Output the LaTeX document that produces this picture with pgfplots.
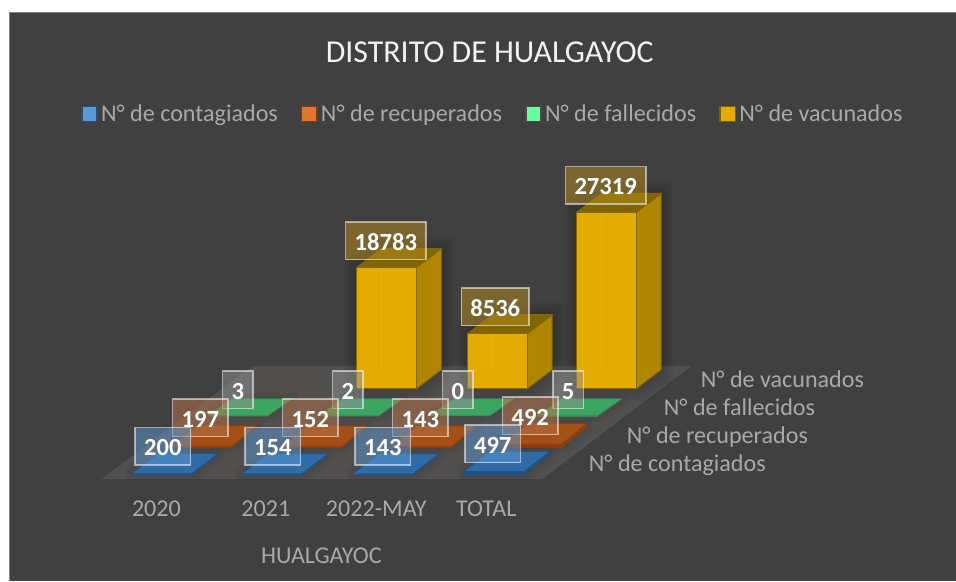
\documentclass[border=0pt]{standalone}
\usepackage{pgfplots}
\usepackage{fontspec}
\usepackage{xfp}
\setmainfont{Carlito}
\pgfplotsset{compat=1.18}
\definecolor{panel}{HTML}{404040}
\definecolor{pedge}{HTML}{7F7F7F}
\definecolor{floorc}{HTML}{524F4F}
\definecolor{axt}{HTML}{A9A9A9}
\definecolor{ytop}{HTML}{7F6600}
\definecolor{yfront}{HTML}{E5AC00}
\definecolor{yside}{HTML}{B08500}
\definecolor{yedge}{HTML}{866700}
\definecolor{btop}{HTML}{2F6CA6}
\definecolor{bdark}{HTML}{1F5286}
\definecolor{otop}{HTML}{A34F16}
\definecolor{odark}{HTML}{8A3F10}
\definecolor{gtop}{HTML}{3CA564}
\definecolor{gdark}{HTML}{2F8A52}
\definecolor{lby}{HTML}{B88C20}
\definecolor{lbb}{HTML}{5E98D0}
\definecolor{lbo}{HTML}{B8744A}
\definecolor{lbg}{HTML}{929292}
\definecolor{legb}{HTML}{5B9BD5}
\definecolor{legbd}{HTML}{264E78}
\definecolor{lego}{HTML}{DD7731}
\definecolor{legod}{HTML}{843C0C}
\definecolor{legg}{HTML}{66FF99}
\definecolor{leggd}{HTML}{4A4A4A}
\definecolor{legy}{HTML}{E5AC00}
\definecolor{legyd}{HTML}{7F6000}
% soft shadow of a bar: outline grown by #1 around base and top
\newcommand\softshadow[1]{%
  \edef\sa{\fpeval{\xl-#1}}\edef\sb{\fpeval{\xr+#1}}\edef\sc{\fpeval{\xrb+#1}}%
  \edef\sd{\fpeval{\ybase+#1}}\edef\se{\fpeval{\yback+#1}}%
  \edef\sf{\fpeval{\ytb-#1}}\edef\sg{\fpeval{\yt-#1}}%
  \addplot[fill=black,fill opacity=0.04,draw=none,forget plot] coordinates {(\sa,\sd) (\sb,\sd) (\sc,\se) (\sc,\sf) (\xlb,\sf) (\sa,\sg)} --cycle;
}
\newcommand\tallbar[2]{%
  \edef\xl{#1}\edef\ybase{389}\edef\yback{370}%
  \edef\yt{\fpeval{389-0.00646*#2}}%
  \edef\xr{\fpeval{#1+59.5}}%
  \edef\xrb{\fpeval{#1+59.5+25}}%
  \edef\xlb{\fpeval{#1+25}}%
  \edef\ytb{\fpeval{\yt-19}}%
  \softshadow{3}\softshadow{6}\softshadow{9}\softshadow{12}%
  \addplot[fill=yside,draw=yedge,line width=1pt,forget plot] coordinates {(\xr,389) (\xrb,370) (\xrb,\ytb) (\xr,\yt)} --cycle;
  \addplot[fill=ytop,draw=yedge,line width=1pt,forget plot] coordinates {(#1,\yt) (\xr,\yt) (\xrb,\ytb) (\xlb,\ytb)} --cycle;
  \addplot[fill=yfront,draw=yedge,line width=1pt,forget plot] coordinates {(#1,389) (\xr,389) (\xr,\yt) (#1,\yt)} --cycle;
  \addplot[draw=white,draw opacity=0.07,line width=1pt,forget plot] coordinates {(\xlb,\yt) (\xlb,372)};
}
\newcommand\flatbar[7]{%
  \edef\hh{\fpeval{0.00646*#5}}%
  \edef\xl{#1}\edef\ybase{#2}\edef\yback{#4}%
  \edef\xr{\fpeval{#1+60}}%
  \edef\xrb{\fpeval{#1+60+#3}}%
  \edef\xlb{\fpeval{#1+#3}}%
  \edef\yft{\fpeval{#2-\hh}}%
  \edef\ybt{\fpeval{#4-\hh}}%
  \edef\yt{\yft}\edef\ytb{\ybt}%
  \softshadow{3}\softshadow{6}%
  \addplot[fill=#7,draw=#7,line width=0.6pt,forget plot] coordinates {(\xr,#2) (\xrb,#4) (\xrb,\ybt) (\xr,\yft)} --cycle;
  \addplot[fill=#7,draw=#7,line width=0.6pt,forget plot] coordinates {(#1,#2) (\xr,#2) (\xr,\yft) (#1,\yft)} --cycle;
  \addplot[fill=#6,draw=#7,line width=0.6pt,forget plot] coordinates {(#1,\yft) (\xr,\yft) (\xrb,\ybt) (\xlb,\ybt)} --cycle;
}
\pgfplotsset{lab/.style={only marks,mark=none,forget plot,point meta=explicit symbolic,
  nodes near coords={\bfseries\pgfplotspointmeta},
  nodes near coords style={anchor=center,font=\fontsize{24.6}{26}\selectfont,text=white,
    fill=#1,fill opacity=0.5,text opacity=1,draw=white,draw opacity=0.55,line width=1.5pt,
    inner xsep=9pt,inner ysep=0pt,minimum height=37.5pt,text height=19pt,text depth=0pt}}}
\pgfplotstableread{
x y v
163 446.5 200
273 446.5 154
383 446.5 143
493 444 497
}\tblue
\pgfplotstableread{
x y v
200.5 418 197
310.5 418 152
420.5 418 143
530.5 416 492
}\torange
\pgfplotstableread{
x y v
238 390 3
348 390 2
458 390 0
568.5 390 5
}\tgreen
\pgfplotstableread{
x y v
386 241 18783
495.5 307 8536
606 185.5 27319
}\tyellow
\begin{document}
\begin{tikzpicture}
\begin{axis}[
  width=956pt,height=581pt,scale only axis,
  xmin=0,xmax=956,ymin=0,ymax=581,y dir=reverse,
  hide axis,clip=false,
  legend columns=4,
  legend cell align=left,
  legend image code/.code={\draw[#1,line width=1.6pt] (0pt,-7.5pt) rectangle (15.5pt,7.5pt);},
  legend style={at={(axis cs:81,114)},anchor=west,draw=none,fill=none,text=axt,inner sep=0pt,outer sep=0pt,
    font=\fontsize{24.1}{26}\selectfont,
    /tikz/column 2/.style={column sep=20pt},
    /tikz/column 4/.style={column sep=20pt},
    /tikz/column 6/.style={column sep=20pt},
    /tikz/nodes={inner xsep=3pt,inner ysep=0pt}},
]
\addlegendimage{fill=legb,draw=legbd}
\addlegendentry{N° de contagiados}
\addlegendimage{fill=lego,draw=legod}
\addlegendentry{N° de recuperados}
\addlegendimage{fill=legg,draw=leggd}
\addlegendentry{N° de fallecidos}
\addlegendimage{fill=legy,draw=legyd}
\addlegendentry{N° de vacunados}
% page and panel
\addplot[fill=white,draw=none,forget plot] coordinates {(0,0) (956,0) (956,581) (0,581)} --cycle;
\addplot[fill=panel,draw=none,forget plot] coordinates {(9,12.5) (956,12.5) (956,581) (9,581)} --cycle;
\addplot[draw=pedge,line width=1pt,forget plot] coordinates {(9.5,581) (9.5,12.5) (956,12.5)};
% floor
\addplot[fill=floorc,draw=none,forget plot] coordinates {(102,479) (543,479) (692,366) (253,366)} --cycle;
% vacunados
\tallbar{357}{18783}
\tallbar{468}{8536}
\tallbar{577}{27319}
% fallecidos
\flatbar{208}{416}{24}{399}{3}{gtop}{gdark}
\flatbar{319}{416}{24}{399}{2}{gtop}{gdark}
\flatbar{430}{416}{24}{399}{0}{gtop}{gdark}
\flatbar{538}{416}{24}{399}{5}{gtop}{gdark}
% recuperados
\flatbar{172}{447.5}{25}{427}{197}{otop}{odark}
\flatbar{282}{447.5}{25}{427}{152}{otop}{odark}
\flatbar{392}{447.5}{25}{427}{143}{otop}{odark}
\flatbar{502}{447.5}{25}{427}{492}{otop}{odark}
% contagiados
\flatbar{132}{475}{26}{455}{200}{btop}{bdark}
\flatbar{242}{475}{26}{455}{154}{btop}{bdark}
\flatbar{353}{475}{26}{455}{143}{btop}{bdark}
\flatbar{464}{475}{26}{455}{497}{btop}{bdark}
% data labels
\addplot[lab=lbg] table[x=x,y=y,meta=v] {\tgreen};
\addplot[lab=lbo] table[x=x,y=y,meta=v] {\torange};
\addplot[lab=lbb] table[x=x,y=y,meta=v] {\tblue};
\addplot[lab=lby] table[x=x,y=y,meta=v] {\tyellow};
% texts
\node[anchor=base,inner sep=0pt,text=white!95!black,font=\fontsize{31.9}{33}\selectfont] at (axis cs:490,63) {DISTRITO DE HUALGAYOC};
\begin{scope}[every node/.style={text=axt,font=\fontsize{24.1}{26}\selectfont,inner sep=0pt}]
\node[anchor=base] at (axis cs:156.5,517) {2020};
\node[anchor=base] at (axis cs:266,517) {2021};
\node[anchor=base] at (axis cs:376.5,517) {2022-MAY};
\node[anchor=base] at (axis cs:486.5,517) {TOTAL};
\node[anchor=base] at (axis cs:321.5,564) {HUALGAYOC};
\node[anchor=base west] at (axis cs:701,388) {N° de vacunados};
\node[anchor=base west] at (axis cs:664,416) {N° de fallecidos};
\node[anchor=base west] at (axis cs:627,444) {N° de recuperados};
\node[anchor=base west] at (axis cs:589,472) {N° de contagiados};
\end{scope}
\end{axis}
\end{tikzpicture}
\end{document}
